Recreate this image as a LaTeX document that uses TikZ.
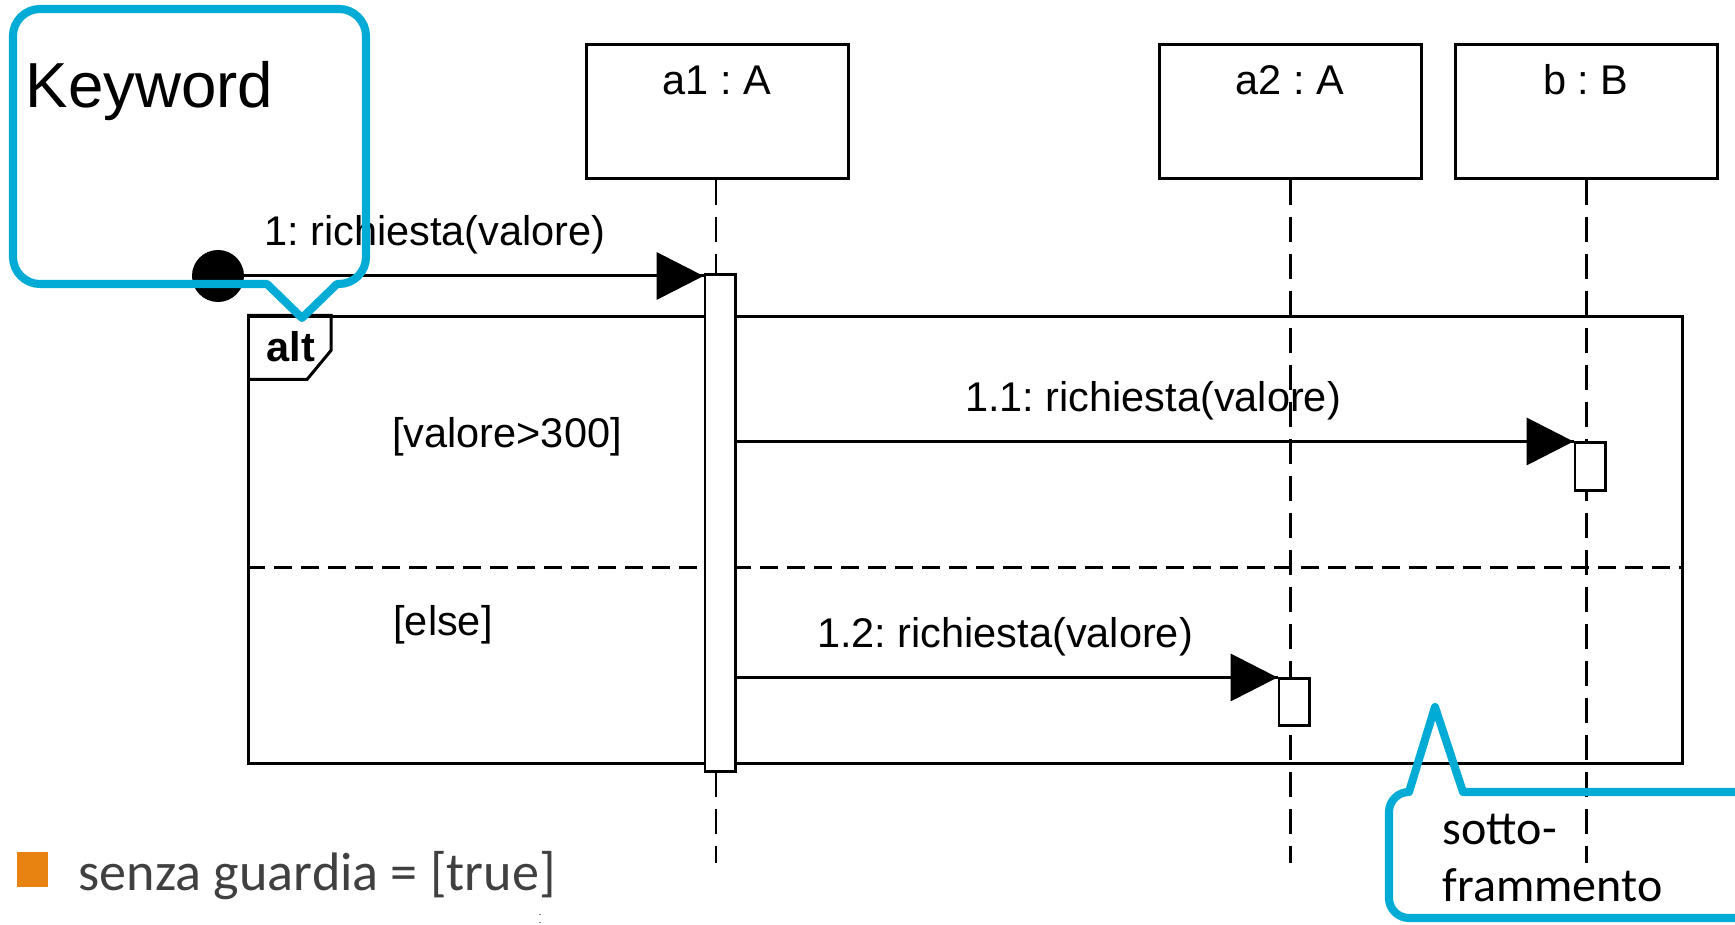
\documentclass[tikz,border=0pt]{standalone}
\usepackage{fontspec}
\setmainfont{Liberation Sans}
\newfontfamily\slidefont{Carlito}
\frenchspacing

\definecolor{callblue}{RGB}{0,172,214}
\definecolor{bulletorange}{RGB}{232,131,18}
\definecolor{slidegray}{RGB}{64,64,64}

\tikzset{
  head/.style={draw, line width=0.85pt, minimum width=2.62cm, minimum height=1.33cm},
  act/.style={draw, fill=white, line width=0.85pt, minimum width=0.3cm},
  lifeline/.style={line width=0.85pt, dash pattern=on 0.25cm off 0.12cm},
  msg/.style={line width=0.85pt},
  uml/.style={font=\fontsize{11.8}{14}\selectfont},
  callout/.style={callblue, line width=2.3pt, line join=round}
}

\begin{document}
\begin{tikzpicture}[x=0.01cm, y=0.01cm]
\tikzstyle{every node}+=[inner sep=0pt]
\useasboundingbox (0,0) rectangle (1735,-925);
\clip (0,0) rectangle (1735,-925);
\node [head] (a1) at (717.5,-111.5) {};
\node [head] (a2) at (1290.5,-111.5) {};
\node [head] (b) at (1586.5,-111.5) {};
\draw (717,-80) node [uml] (a1lbl) {a1 : A};
\draw (1290,-80) node [uml] (a2lbl) {a2 : A};
\draw (1586,-80) node [uml] (blbl) {b : B};
\coordinate (lifeend) at (0,-863);
\node [draw, line width=0.85pt, minimum width=14.33cm, minimum height=4.46cm] (frag) at (965.5,-540) {};
\draw [line width=0.85pt] (frag.north west) -- ++(84,0) -- ++(0,-35) -- ++(-24,-29) -- ++(-60,0);
\draw (291,-347) node [font=\fontsize{11.8}{14}\selectfont\bfseries] (alt) {alt};
\draw [line width=0.85pt, dash pattern=on 0.18cm off 0.09cm] (frag.west |- 0,-568) -- (frag.east |- 0,-568);
\draw [lifeline] (a1.south -| 716,0) -- (lifeend -| 716,0);
\draw [lifeline] (a2.south) -- (a2.south |- lifeend);
\draw [lifeline] (b.south) -- (b.south |- lifeend);
\node [act, minimum height=4.96cm] (a1act) at (720,-523) {};
\node [act, minimum height=0.47cm] (bact) at (1590,-466.5) {};
\node [act, minimum height=0.46cm] (a2act) at (1294,-702) {};
\node [circle, fill=black, minimum size=0.52cm] (found) at (218,-276) {};
\draw [msg] (found.center) -- (found.center -| a1act.west);
\fill [black] (found.center -| a1act.west) -- ++(-47,24) -- ++(0,-48) -- cycle;
\draw [msg] (a1act.east |- bact.north) -- (bact.north west);
\fill [black] (bact.north west) -- ++(-47,24) -- ++(0,-48) -- cycle;
\draw [msg] (a1act.east |- a2act.north) -- (a2act.north west);
\fill [black] (a2act.north west) -- ++(-47,24) -- ++(0,-48) -- cycle;
\draw (435,-235) node [uml] (m1) {1: richiesta(valore)};
\draw (1153,-401) node [uml] (m11) {1.1: richiesta(valore)};
\draw (1005,-637) node [uml] (m12) {1.2: richiesta(valore)};
\draw (507,-437) node [uml] (g1) {[valore>300]};
\draw (443,-625) node [uml] (g2) {[else]};
\draw [callout] (302,-318) -- (337,-284) -- (339,-284) arc [start angle=-90, end angle=0, radius=0.27cm] -- (366,-36) arc [start angle=0, end angle=90, radius=0.27cm] -- (40,-9) arc [start angle=90, end angle=180, radius=0.27cm] -- (13,-257) arc [start angle=180, end angle=270, radius=0.27cm] -- (267,-284) -- cycle;
\draw (25,-108) node [anchor=base west, font=\fontsize{18.1}{22}\selectfont] (kw) {Keyword};
\draw [callout] (1435,-707) -- (1463,-792) -- (1760,-792) -- (1760,-918) -- (1409,-918) arc [start angle=270, end angle=180, radius=0.2cm] -- (1389,-812) arc [start angle=180, end angle=90, radius=0.2cm] -- cycle;
\draw (1442,-845) node [anchor=base west, font=\slidefont\fontsize{13.65}{16}\selectfont] (sotto) {sotto-};
\draw (1442,-902) node [anchor=base west, font=\slidefont\fontsize{13.65}{16}\selectfont] (framm) {frammento};
\node [fill=bulletorange, minimum width=0.31cm, minimum height=0.34cm] (bullet) at (32.5,-869.5) {};
\draw (78,-891) node [anchor=base west, text=slidegray, font=\slidefont\fontsize{15.4}{18}\selectfont] (guard) {senza guardia = [true]};
\draw [gray, dotted, line width=0.3pt] (540,-914) -- (540,-925);
\end{tikzpicture}
\end{document}
